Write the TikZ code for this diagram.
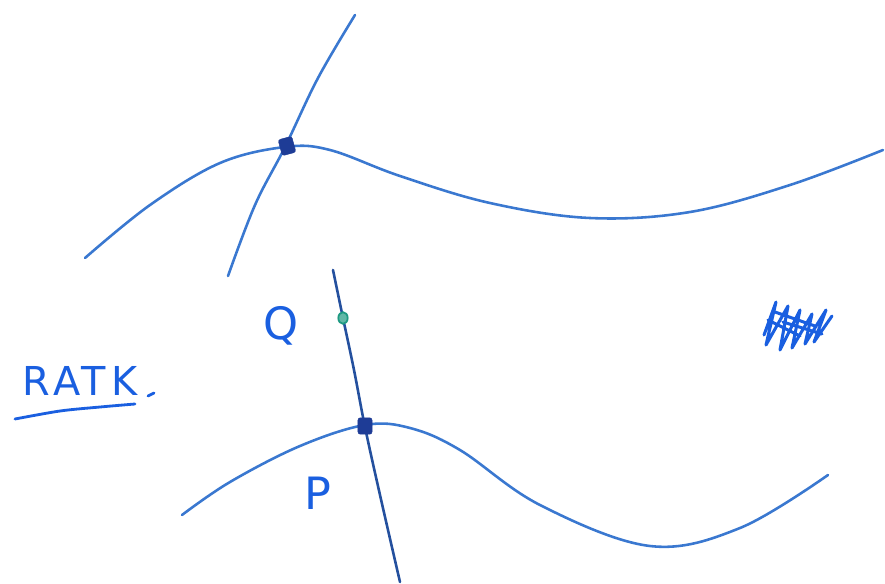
\documentclass[tikz,border=0pt]{standalone}
\usepackage{fontspec}
\setsansfont{DejaVu Sans}
\definecolor{penblue}{HTML}{3A78D0}
\definecolor{inkblue}{HTML}{1A5FE0}
\definecolor{navy}{HTML}{1E3C96}
\definecolor{teal2}{HTML}{1E9A82}
\definecolor{darkline}{HTML}{24509E}
\tikzset{
  pen/.style={penblue, line width=2.2pt, line cap=round, line join=round},
  darkpen/.style={darkline, line width=2.2pt, line cap=round},
  hand/.style={inkblue, font=\sffamily\fontsize{38}{38}\selectfont, inner sep=0pt},
  knot/.style={fill=navy, draw=navy, rectangle, rounded corners=2pt, minimum width=12pt, minimum height=14pt, inner sep=0pt},
  gdot/.style={draw=teal2, fill=teal2!70, ellipse, minimum width=8pt, minimum height=10pt, inner sep=0pt, line width=1.5pt}
}
\usetikzlibrary{shapes.geometric}
\begin{document}
\begin{tikzpicture}[x=0.03cm,y=-0.03cm]
\useasboundingbox (0,0) rectangle (885,584);
% upper curve
\draw[pen] plot[smooth, tension=0.6] coordinates {(85,258) (150,205) (220,163) (285,147) (330,150) (400,176) (490,203) (590,218) (690,212) (790,185) (883,150)};
% upper transverse
\draw[pen] plot[smooth, tension=0.6] coordinates {(228,276) (255,205) (285,147) (318,78) (355,15)};
% lower curve
\draw[pen] plot[smooth, tension=0.6] coordinates {(182,515) (230,482) (300,446) (365,425) (410,428) (460,450) (540,505) (650,546) (740,528) (828,475)};
% lower transverse
\draw[darkpen] plot[smooth, tension=0.6] coordinates {(333,270) (343,318) (354,370) (365,427) (380,495) (400,582)};
% intersection points
\node[knot, rotate=15] (Pu) at (287,146) {};
\node[knot] (Pl) at (365,426) {};
\node[gdot] (q) at (343,318) {};
% labels
\node[hand] (Q) at (281,326) {Q};
\node[hand] (P) at (318,493) {P};
\node[hand, anchor=west, font=\sffamily\fontsize{34}{34}\selectfont\addfontfeatures{LetterSpace=12}] (ratk) at (22,381) {RATK};
\draw[inkblue, line width=2.4pt, line cap=round] (148,396) -- (154,393);
\draw[inkblue, line width=2.4pt, line cap=round] plot[smooth] coordinates {(15,419) (60,411) (100,407) (135,404)};
% scribble
\draw[inkblue, line width=2.6pt, line cap=round, line join=round]
  (764,335) -- (776,302) -- (766,345) -- (788,306) -- (780,350) -- (800,310) -- (792,348) -- (812,314) -- (805,344) -- (826,310) -- (814,342) -- (832,316)
  (768,320) -- (800,336) (783,322) -- (822,334) (775,312) -- (815,326);
\end{tikzpicture}
\end{document}
